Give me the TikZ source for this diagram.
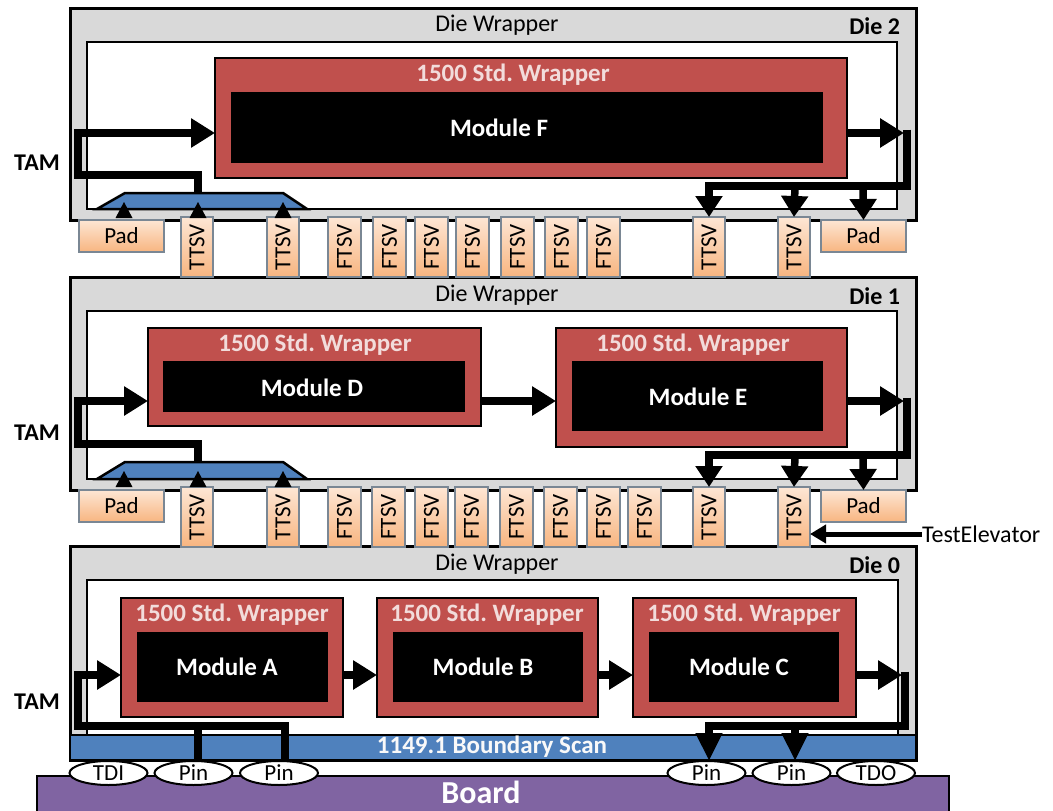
\documentclass[tikz,border=0pt]{standalone}
\usepackage{fontspec}
\setmainfont{Carlito}
\usepackage{graphicx}
\usetikzlibrary{arrows.meta,shapes.geometric}
\definecolor{diegray}{HTML}{D9D9D9}
\definecolor{wrapred}{HTML}{C0504D}
\definecolor{scanblue}{HTML}{4F81BD}
\definecolor{boardpurple}{HTML}{8064A2}
\definecolor{tsvtop}{HTML}{FDE6D4}
\definecolor{tsvbot}{HTML}{F8B580}
\definecolor{tsvedge}{HTML}{7A8794}
\definecolor{wraptext}{HTML}{F2DCDB}
\newcommand\fs[1]{\fontsize{#1}{#1}\selectfont}
\newcommand\rbox[7]{\node[#1, anchor=north west, minimum width=#5, minimum height=#6] (#2) at (#3,#4) {#7};}
\newcommand\stdwrap{1500 Std.\ Wrapper}
\begin{document}
\begin{tikzpicture}[x=1pt,y=-1pt,
  every node/.style={inner sep=0pt, outer sep=0pt},
  diebox/.style={draw=black, line width=3pt, fill=diegray},
  inbox/.style={draw=black, line width=2.5pt, fill=white},
  wrapbox/.style={draw=black, line width=2.5pt, fill=wrapred},
  corebox/.style={fill=black},
  tsvbox/.style={draw=tsvedge, line width=1.6pt, top color=tsvtop, bottom color=tsvbot, font=\fs{23}},
  scanbox/.style={draw=black, line width=2.5pt, fill=scanblue},
  pinnode/.style={ellipse, draw=black, line width=2pt, fill=white, minimum width=78, minimum height=24, font=\fs{23}},
  lbl/.style={font=\fs{24}},
  dielbl/.style={font=\fs{24}\bfseries, anchor=east},
  wraplbl/.style={font=\fs{25}\bfseries, text=wraptext},
  modlbl/.style={font=\fs{25}\bfseries, text=white},
  tamlbl/.style={font=\fs{24}\bfseries},
  bus/.style={line width=7.5pt, line join=miter},
  arr/.style={bus, -{Triangle[length=24pt,width=28pt]}},
  arrdown/.style={bus, -{Triangle[length=21pt,width=26pt]}},
  arrbig/.style={bus, -{Triangle[length=28pt,width=25pt]}},
  uptri/.style={fill=black}
]
\useasboundingbox (0,0) rectangle (1053,811);
\fill[white] (0,0) rectangle (1053,811);

% ================= Die 2 =================
\rbox{diebox}{d2o}{70}{8}{846}{212}{}
\rbox{inbox}{d2i}{87}{42}{810}{167}{}
\node[lbl] (d2w) at (497,25) {Die Wrapper};
\node[dielbl] (d2n) at (900,26) {Die 2};
\rbox{wrapbox}{wF}{215}{58}{632}{120}{}
\rbox{corebox}{mF}{231}{92}{592}{71}{}
\node[wraplbl] (wFl) at (513,75) {\stdwrap};
\node[modlbl] (mFl) at (499,128) {Module F};
\draw[scanbox] (97,209) -- (125,193) -- (283,193) -- (307,209) -- cycle;
\node[tamlbl] (tam2) at (37,163) {TAM};

% ================= Die 1 =================
\rbox{diebox}{d1o}{70}{277}{846}{213}{}
\rbox{inbox}{d1i}{87}{311}{810}{168}{}
\node[lbl] (d1w) at (497,295) {Die Wrapper};
\node[dielbl] (d1n) at (900,296) {Die 1};
\rbox{wrapbox}{wD}{148}{328}{333}{98}{}
\rbox{corebox}{mD}{163}{361}{302}{51}{}
\node[wraplbl] (wDl) at (315,345) {\stdwrap};
\node[modlbl] (mDl) at (312,388) {Module D};
\rbox{wrapbox}{wE}{556}{328}{291}{119}{}
\rbox{corebox}{mE}{572}{361}{251}{70}{}
\node[wraplbl] (wEl) at (693,345) {\stdwrap};
\node[modlbl] (mEl) at (698,397) {Module E};
\draw[scanbox] (97,479) -- (125,462) -- (283,462) -- (307,479) -- cycle;
\node[tamlbl] (tam1) at (37,433) {TAM};

% ================= Die 0 =================
\rbox{diebox}{d0o}{70}{546}{846}{214}{}
\rbox{inbox}{d0i}{87}{580}{811}{155}{}
\rbox{scanbox}{bscan}{70}{735}{846}{25}{}
\node[font=\fs{25}\bfseries, text=white!95!gray] (bscl) at (492,747) {1149.1 Boundary Scan};
\node[lbl] (d0w) at (497,564) {Die Wrapper};
\node[dielbl] (d0n) at (900,565) {Die 0};
\rbox{wrapbox}{wA}{121}{598}{222}{119}{}
\rbox{corebox}{mA}{137}{632}{191}{70}{}
\node[wraplbl] (wAl) at (232,615) {\stdwrap};
\node[modlbl] (mAl) at (227,667) {Module A};
\rbox{wrapbox}{wB}{377}{598}{221}{119}{}
\rbox{corebox}{mB}{393}{632}{190}{70}{}
\node[wraplbl] (wBl) at (487,615) {\stdwrap};
\node[modlbl] (mBl) at (483,667) {Module B};
\rbox{wrapbox}{wC}{633}{598}{223}{119}{}
\rbox{corebox}{mC}{649}{632}{190}{70}{}
\node[wraplbl] (wCl) at (744,615) {\stdwrap};
\node[modlbl] (mCl) at (739,667) {Module C};
\node[tamlbl] (tam0) at (37,702) {TAM};

% ================= Board and pins =================
\rbox{draw=black, line width=2.5pt, fill=boardpurple}{board}{37}{776}{912}{40}{}
\node[font=\fs{32}\bfseries, text=white] (boardl) at (481,792) {Board};
\node[pinnode] (tdi) at (108.5,773) {TDI};
\node[pinnode] (pin1) at (193.5,773) {Pin};
\node[pinnode] (pin2) at (279,773) {Pin};
\node[pinnode] (pin3) at (706.5,773) {Pin};
\node[pinnode] (pin4) at (791.5,773) {Pin};
\node[pinnode] (tdo) at (876,773) {TDO};

% ================= TSV row between Die 2 and Die 1 =================
\rbox{tsvbox}{p2l}{79}{220}{85}{32}{Pad}
\rbox{tsvbox}{p2r}{821}{220}{85}{32}{Pad}
\foreach \x [count=\i] in {181,267,693,778} {
  \rbox{tsvbox}{tt2\i}{\x}{217}{32}{60}{\rotatebox{90}{TTSV}}
}
\foreach \x [count=\i] in {328,373,415,456,501,545,587} {
  \rbox{tsvbox}{ft2\i}{\x}{217}{33}{60}{\rotatebox{90}{FTSV}}
}
% ================= TSV row between Die 1 and Die 0 =================
\rbox{tsvbox}{p1l}{79}{490}{85}{32}{Pad}
\rbox{tsvbox}{p1r}{821}{490}{85}{32}{Pad}
\foreach \x [count=\i] in {181,267,693,778} {
  \rbox{tsvbox}{tt1\i}{\x}{487}{32}{60}{\rotatebox{90}{TTSV}}
}
\foreach \x [count=\i] in {328,372,415,455,500,544,587,628} {
  \rbox{tsvbox}{ft1\i}{\x}{487}{33}{60}{\rotatebox{90}{FTSV}}
}

% small up arrows into the TAM distribution (Die 2, Die 1)
\foreach \x in {124,198,283} {
  \fill[uptri] (\x,202) -- (\x+8.5,218) -- (\x-8.5,218) -- cycle;
  \fill[uptri] (\x,471) -- (\x+8.5,487) -- (\x-8.5,487) -- cycle;
}

% ================= Connectors: Die 2 =================
\draw[arr] (198,193) -- (198,175) -- (78,175) -- (78,133) -- (wF.west |- 0,133);
\draw[arr] (wF.east |- 0,133) -- (904,133);
\draw[arrdown] (907,129.5) -- (907,186) -- (709,186) -- (tt23.north -| 709,0);
\draw[arrdown] (795,186) -- (tt24.north);
\draw[arrdown] (863,186) -- (p2r.north);

% ================= Connectors: Die 1 =================
\draw[arr] (198,462) -- (198,444) -- (78,444) -- (78,401) -- (wD.west |- 0,401);
\draw[arr] (wD.east |- 0,401) -- (wE.west |- 0,401);
\draw[arr] (wE.east |- 0,401) -- (904,401);
\draw[arrdown] (907,397.5) -- (907,455) -- (709,455) -- (tt13.north -| 709,0);
\draw[arrdown] (795,455) -- (tt14.north);
\draw[arrdown] (863,455) -- (p1r.north);

% TestElevator
\node[font=\fs{24}, anchor=west] (tel) at (922,534) {TestElevator};
\draw[line width=5pt, -{Triangle[length=16pt,width=18pt]}] (tel.west) -- (tt14.east |- tel.west);

% ================= Connectors: Die 0 =================
\draw[bus] (198,760) -- (198,726);
\draw[arr] (285,760) -- (285,726) -- (78,726) -- (78,675) -- (wA.west |- 0,675);
\draw[arr] (wA.east |- 0,675) -- (wB.west |- 0,675);
\draw[arr] (wB.east |- 0,675) -- (wC.west |- 0,675);
\draw[arr] (wC.east |- 0,675) -- (902,675);
\draw[arrbig] (905,671.5) -- (905,726) -- (709,726) -- (pin3.north -| 709,0);
\draw[arrbig] (795,726) -- (pin4.north -| 795,0);
\end{tikzpicture}
\end{document}
